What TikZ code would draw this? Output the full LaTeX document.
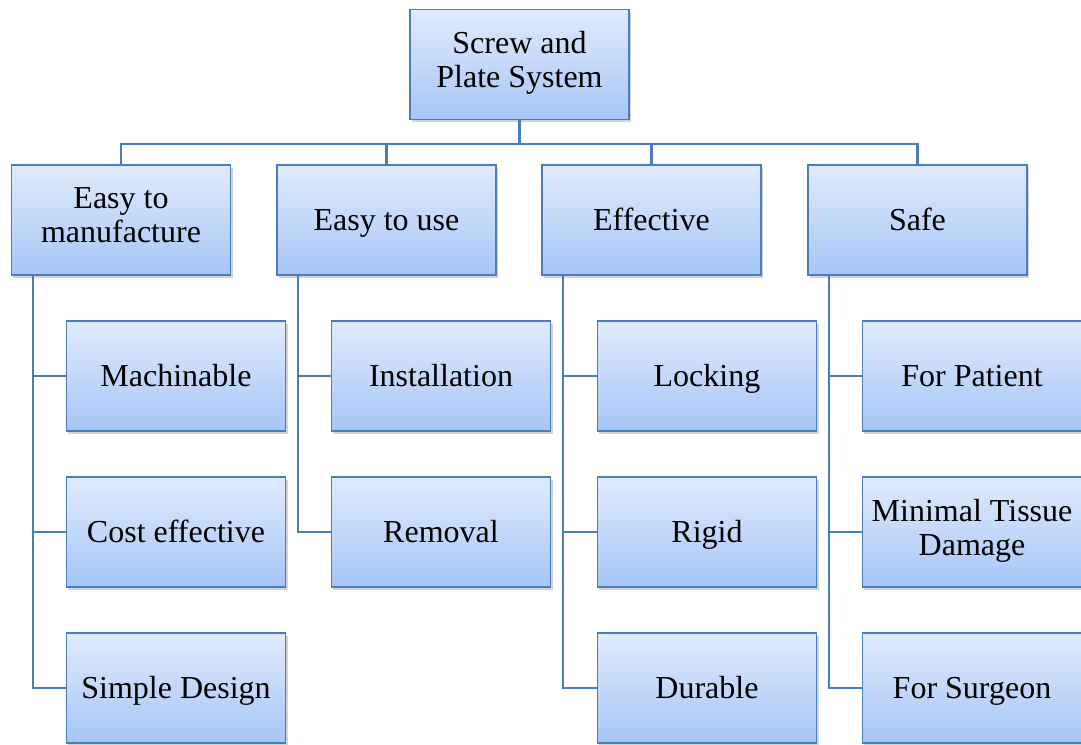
\documentclass[tikz,border=0pt]{standalone}
\usepackage{fontspec}
\setmainfont{Liberation Serif}
\usetikzlibrary{shadows}

\definecolor{boxtop}{HTML}{E0EBFC}
\definecolor{boxbot}{HTML}{A6C5F7}
\definecolor{boxline}{HTML}{4A7EBB}

\newcommand{\topstrut}{\rule[-7.65pt]{0pt}{31pt}}

\tikzset{
    box/.style={draw=boxline, line width=1.1pt, top color=boxtop, bottom color=boxbot,
        minimum width=164.5pt, minimum height=82.5pt, align=center, inner sep=1pt,
        drop shadow={shadow xshift=1.5pt, shadow yshift=-2pt, opacity=0.35},
        font=\fontsize{24}{25.5}\selectfont,
        execute at begin node=\topstrut, execute at end node=\strut},
    conn/.style={draw=boxline, line width=1.6pt}
}

\begin{document}
\begin{tikzpicture}[x=0.75pt, y=-0.75pt]
\useasboundingbox (0,0) rectangle (1081,745);

\node[box] (top) at (519.5,64.5) {Screw and\\Plate System};

\node[box] (manu) at (121,220) {Easy to\\manufacture};
\node[box] (use) at (386.5,220) {Easy to use};
\node[box] (eff) at (651.5,220) {Effective};
\node[box] (safe) at (917.5,220) {Safe};

\coordinate (bus) at (519.5,144);

\node[box] (mach) at (176,376) {Machinable};
\node[box] (cost) at (176,532) {Cost effective};
\node[box] (simp) at (176,688) {Simple Design};

\node[box] (inst) at (441,376) {Installation};
\node[box] (rem) at (441,532) {Removal};

\node[box] (lock) at (707,376) {Locking};
\node[box] (rigid) at (707,532) {Rigid};
\node[box] (dur) at (707,688) {Durable};

\node[box] (pat) at (972,376) {For Patient};
\node[box] (tiss) at (972,532) {Minimal Tissue\\Damage};
\node[box] (surg) at (972,688) {For Surgeon};

% top level
\draw[conn] (top.south) -- (bus);
\draw[conn] (manu.north) |- (bus) -| (safe.north);
\draw[conn] (use.north) -- (use.north |- bus);
\draw[conn] (eff.north) -- (eff.north |- bus);

% children
\draw[conn] ([xshift=16.5pt]manu.south west) |- (simp.west);
\draw[conn] ([xshift=16.5pt]manu.south west |- mach.west) -- (mach.west);
\draw[conn] ([xshift=16.5pt]manu.south west |- cost.west) -- (cost.west);

\draw[conn] ([xshift=16.5pt]use.south west) |- (rem.west);
\draw[conn] ([xshift=16.5pt]use.south west |- inst.west) -- (inst.west);

\draw[conn] ([xshift=16.5pt]eff.south west) |- (dur.west);
\draw[conn] ([xshift=16.5pt]eff.south west |- lock.west) -- (lock.west);
\draw[conn] ([xshift=16.5pt]eff.south west |- rigid.west) -- (rigid.west);

\draw[conn] ([xshift=16.5pt]safe.south west) |- (surg.west);
\draw[conn] ([xshift=16.5pt]safe.south west |- pat.west) -- (pat.west);
\draw[conn] ([xshift=16.5pt]safe.south west |- tiss.west) -- (tiss.west);
\end{tikzpicture}
\end{document}
